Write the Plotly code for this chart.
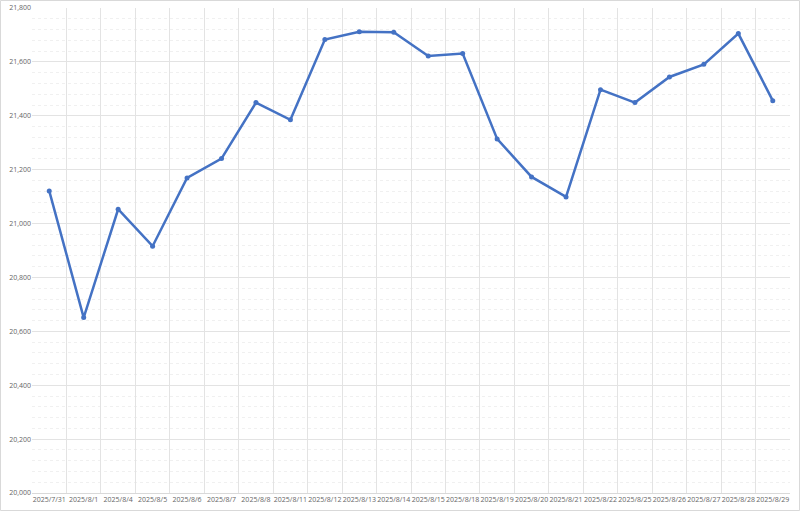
import plotly.graph_objects as go

dates = ["2025/7/31", "2025/8/1", "2025/8/4", "2025/8/5", "2025/8/6", "2025/8/7", "2025/8/8",
         "2025/8/11", "2025/8/12", "2025/8/13", "2025/8/14", "2025/8/15", "2025/8/18", "2025/8/19",
         "2025/8/20", "2025/8/21", "2025/8/22", "2025/8/25", "2025/8/26", "2025/8/27", "2025/8/28", "2025/8/29"]
values = [21121, 20651, 21053, 20916, 21169, 21241, 21449, 21385, 21683, 21712, 21710, 21622,
          21631, 21314, 21173, 21099, 21497, 21449, 21544, 21591, 21705, 21456]

fig = go.Figure()
fig.add_trace(go.Scatter(
    x=dates, y=values, mode="lines+markers",
    line=dict(color="#4472C4", width=2.5),
    marker=dict(color="#4472C4", size=5),
    hoverinfo="x+y", cliponaxis=False,
))

fig.update_layout(
    width=800, height=511,
    margin=dict(l=32, r=10, t=8, b=18, autoexpand=False),
    paper_bgcolor="white", plot_bgcolor="white",
    showlegend=False,
    font=dict(family="Open Sans, Noto Sans, sans-serif", size=7, color="#666666"),
    xaxis=dict(
        type="category", range=[-0.5, len(dates) - 0.5], automargin=False,
        tickson="boundaries", showgrid=True, gridcolor="#e3e3e3", gridwidth=1,
        ticks="", showline=True, linecolor="#d9d9d9", zeroline=False,
        tickfont=dict(size=7, color="#666666"), tickangle=0,
    ),
    yaxis=dict(
        range=[20000, 21800], dtick=200, tickformat=",d", automargin=False,
        showgrid=True, gridcolor="#e3e3e3", gridwidth=1,
        minor=dict(dtick=40, showgrid=True, gridcolor="#f0f0f0", griddash="dot", gridwidth=1),
        showline=False, zeroline=False, ticks="",
        tickfont=dict(size=7, color="#666666"),
    ),
    shapes=[dict(type="rect", xref="paper", yref="paper", x0=-31.5/758, x1=1+9.5/758,
                 y0=-17.5/485, y1=1+7.5/485, line=dict(color="#d9d9d9", width=1))],
)

fig.write_html("out.html", config={"displayModeBar": False},
               post_script="document.body.style.margin='0';document.body.style.overflow='hidden';")
